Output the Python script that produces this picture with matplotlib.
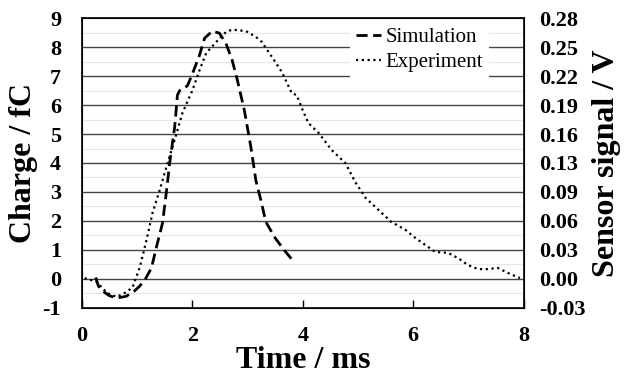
import matplotlib.pyplot as plt

# time (ms) and charge (fC)
sim_t = [0.25, 0.30, 0.40, 0.50, 0.63, 0.80, 0.95, 1.05, 1.15, 1.26, 1.35, 1.46, 1.53,
         1.59, 1.68, 1.73, 1.77, 1.91, 2.00, 2.13, 2.22, 2.36, 2.49, 2.61, 2.72, 2.81,
         2.94, 3.06, 3.15, 3.24, 3.33, 3.50, 3.69, 3.84]
sim_q = [0.05, -0.25, -0.45, -0.58, -0.66, -0.60, -0.42, -0.24, 0.00, 0.38, 1.10, 1.93, 3.00,
         4.00, 5.24, 6.34, 6.50, 6.66, 7.07, 7.72, 8.30, 8.55, 8.48, 8.12, 7.55, 6.90,
         5.83, 4.55, 3.40, 2.72, 1.97, 1.41, 0.93, 0.59]

exp_t = [0.05, 0.27, 0.45, 0.63, 0.81, 0.92, 1.05, 1.17, 1.28, 1.41, 1.53, 1.68, 1.82,
         2.00, 2.13, 2.25, 2.43, 2.61, 2.72, 2.97, 3.15, 3.26, 3.44, 3.62, 3.80, 3.89,
         3.98, 4.10, 4.29, 4.52, 4.77, 4.95, 5.14, 5.37, 5.60, 5.86, 6.04, 6.22, 6.40,
         6.63, 6.81, 6.99, 7.17, 7.35, 7.53, 7.71, 7.93]
exp_q = [0.03, -0.10, -0.48, -0.62, -0.45, -0.28, 0.41, 1.34, 2.28, 3.07, 3.86, 4.80, 5.72,
         6.50, 7.20, 7.79, 8.17, 8.52, 8.60, 8.55, 8.35, 8.17, 7.66, 7.14, 6.41, 6.34,
         5.90, 5.38, 5.03, 4.45, 4.00, 3.34, 2.79, 2.38, 1.97, 1.69, 1.41, 1.17, 0.93,
         0.90, 0.72, 0.48, 0.34, 0.34, 0.38, 0.21, 0.03]

charge_ticks = [-1, 0, 1, 2, 3, 4, 5, 6, 7, 8, 9]
sensor_labels = ['-0.03', '0.00', '0.03', '0.06', '0.09', '0.13', '0.16',
                 '0.19', '0.22', '0.25', '0.28']
time_ticks = [0, 2, 4, 6, 8]

plt.rcParams['font.family'] = ['Liberation Serif', 'DejaVu Serif']
plt.rcParams['axes.unicode_minus'] = False

fig = plt.figure(figsize=(6.25, 3.76), dpi=100)
ax = fig.add_axes([0.131, 0.181, 0.707, 0.771])

# grid: faint half-unit lines and darker unit lines
for v in charge_ticks[:-1]:
    ax.axhline(v + 0.5, color='#e6e6e6', lw=0.8, zorder=0)
for v in charge_ticks[1:-1]:
    ax.axhline(v, color='#444444', lw=1.0, zorder=0)

ax.plot(sim_t, sim_q, color='black', lw=2.0, linestyle=(0, (4, 2)), label='Simulation')
ax.plot(exp_t, exp_q, color='black', lw=1.6, linestyle=(0, (1, 1.6)), label='Experiment')

ax.set_xlim(0, 8)
ax.set_ylim(-1, 9)
ax.set_xticks(time_ticks)
ax.set_yticks(charge_ticks)
ax.tick_params(axis='x', direction='in', length=6, width=1, pad=13, labelsize=16)
ax.tick_params(axis='y', length=0, pad=15, labelsize=16)
for lab in ax.get_xticklabels() + ax.get_yticklabels():
    lab.set_fontweight('bold')
for sp in ax.spines.values():
    sp.set_linewidth(1.2)

ax.set_xlabel('Time / ms', fontsize=23, fontweight='bold', labelpad=0)
ax.set_ylabel('Charge / fC', fontsize=23, fontweight='bold', labelpad=3)

ax2 = ax.twinx()
ax2.set_ylim(-1, 9)
ax2.set_yticks(charge_ticks)
ax2.set_yticklabels(sensor_labels)
ax2.tick_params(axis='y', length=0, pad=11, labelsize=16)
for lab in ax2.get_yticklabels():
    lab.set_fontweight('bold')
ax2.set_ylabel('Sensor signal / V', fontsize=23, fontweight='bold', labelpad=5)

leg = ax.legend(loc='upper right', bbox_to_anchor=(0.945, 1.025), fontsize=15,
                handlelength=1.2, handletextpad=0.2, labelspacing=0.25,
                frameon=True, fancybox=False, borderpad=0.3)
leg.get_frame().set_facecolor('white')
leg.get_frame().set_edgecolor('none')
leg.get_frame().set_alpha(1)

fig.savefig('out.png', dpi=100)
